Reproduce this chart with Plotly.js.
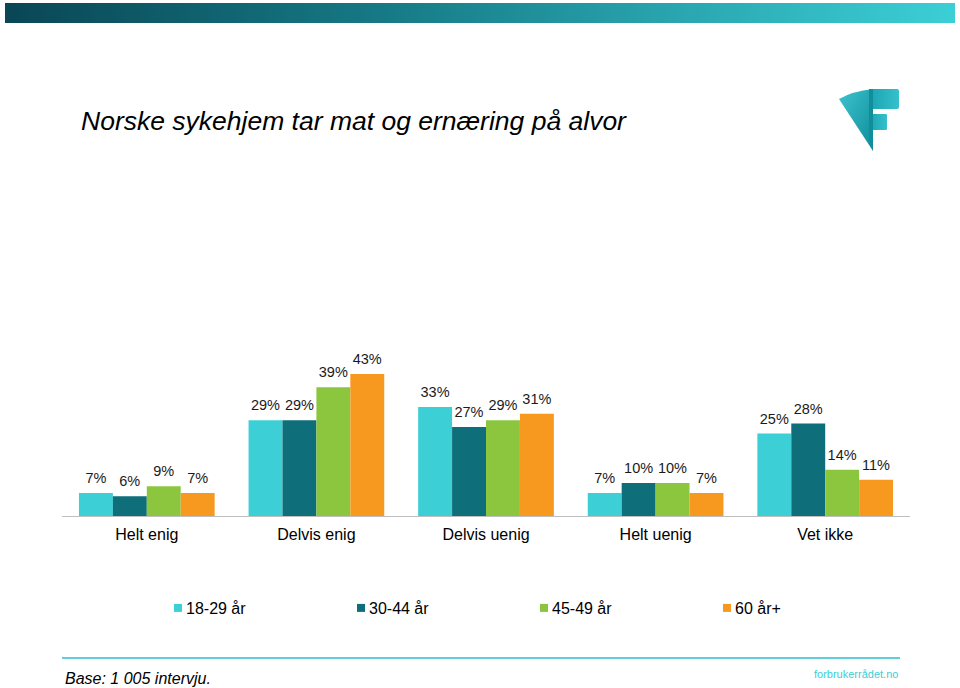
<!DOCTYPE html>
<html><head><meta charset="utf-8">
<script src="https://cdn.plot.ly/plotly-3.0.1.min.js"></script>
<style>html,body{margin:0;padding:0;background:#fff;}#chart{width:960px;height:688px;}</style>
</head><body><div id="chart"></div>
<script>
const categories = ["Helt enig", "Delvis enig", "Delvis uenig", "Helt uenig", "Vet ikke"];
const seriesNames = ["18-29 år", "30-44 år", "45-49 år", "60 år+"];
const age18_29 = [7, 29, 33, 7, 25];
const age30_44 = [6, 29, 27, 10, 28];
const age45_49 = [9, 39, 29, 10, 14];
const age60plus = [7, 43, 31, 7, 11];
const colors = ["#3ccfd6", "#0e6e7a", "#8cc63f", "#f7991e"];

const seriesValues = [age18_29, age30_44, age45_49, age60plus];
const traces = seriesValues.map((vals, i) => ({
  type: "bar", name: seriesNames[i], x: categories, y: vals,
  marker: {color: colors[i]},
  text: vals.map(v => v + "%"), textposition: "outside", cliponaxis: false,
  textfont: {family: "Liberation Sans, Arial, sans-serif", size: 14.5, color: "#1a1a1a"},
  hoverinfo: "skip"
}));

const bannerSvg = '<svg xmlns="http://www.w3.org/2000/svg" width="950" height="20"><defs><linearGradient id="g" x1="0" x2="1" y1="0" y2="0"><stop offset="0" stop-color="#0a4655"/><stop offset="0.4" stop-color="#167a86"/><stop offset="1" stop-color="#3ccfd6"/></linearGradient></defs><rect width="950" height="20" fill="url(#g)"/></svg>';
const logoSvg = '<svg xmlns="http://www.w3.org/2000/svg" width="62" height="62" viewBox="0 0 62 62"><defs><linearGradient id="a" x1="0" y1="0" x2="1" y2="1"><stop offset="0" stop-color="#3cc4cf"/><stop offset="1" stop-color="#0f8c9a"/></linearGradient><linearGradient id="b" x1="0" y1="0" x2="1" y2="0"><stop offset="0" stop-color="#1aa3b0"/><stop offset="1" stop-color="#36c0cc"/></linearGradient></defs><path d="M0,10 Q14,2 34,0 L34,62 Z" fill="url(#a)"/><rect x="30" y="0" width="30" height="20" rx="2" fill="url(#b)"/><rect x="30" y="25" width="18" height="16" rx="1" fill="url(#b)"/><path d="M30,0 L34,0 L34,62 L30,50 Z" fill="#0f8e9c"/></svg>';
function uri(s){ return "data:image/svg+xml;charset=utf-8," + encodeURIComponent(s); }

const pl = 62, pr = 50, pt = 340, pb = 172;
const pw = 960 - pl - pr, ph = 688 - pt - pb;
const px = x => (x - pl) / pw;
const py = y => (pt + ph - y) / ph;

const layout = {
  width: 960, height: 688,
  paper_bgcolor: "#ffffff", plot_bgcolor: "#ffffff",
  margin: {l: pl, r: pr, t: pt, b: pb},
  barmode: "group", bargap: 0.2, bargroupgap: 0,
  font: {family: "Liberation Sans, Arial, sans-serif", color: "#000"},
  xaxis: {
    showline: true, linecolor: "#bfbfbf", linewidth: 1, ticks: "",
    tickfont: {size: 16, color: "#000"}, ticklabelstandoff: 4,
    showgrid: false, zeroline: false, fixedrange: true
  },
  yaxis: {range: [0, ph / 3.3], visible: false, fixedrange: true},
  showlegend: true,
  legend: {
    orientation: "h", xref: "container", yref: "container",
    x: 146/960, y: 1 - 591/688, xanchor: "left", yanchor: "top",
    entrywidth: 138, entrywidthmode: "pixels", itemwidth: 30,
    font: {size: 16, color: "#000"}, traceorder: "normal"
  },
  annotations: [
    {text: "Norske sykehjem tar mat og ernæring på alvor", xref: "paper", yref: "paper",
     x: px(79), y: py(121), xanchor: "left", yanchor: "middle", showarrow: false,
     font: {size: 26.5, color: "#000", style: "italic"}},
    {text: "Base: 1 005 intervju.", xref: "paper", yref: "paper", x: px(63), y: py(678),
     xanchor: "left", yanchor: "middle", showarrow: false,
     font: {size: 16, color: "#000", style: "italic"}},
    {text: "forbrukerrådet.no", xref: "paper", yref: "paper", x: px(900), y: py(674),
     xanchor: "right", yanchor: "middle", showarrow: false,
     font: {size: 11, color: "#3ccfd6"}}
  ],
  shapes: [
    {type: "line", xref: "paper", yref: "paper", x0: px(62), x1: px(900), y0: py(658), y1: py(658),
     line: {color: "#5fd0d8", width: 2}}
  ],
  images: [
    {source: uri(bannerSvg), xref: "paper", yref: "paper", x: px(5), y: py(3), sizex: 950 / pw, sizey: 20 / ph,
     xanchor: "left", yanchor: "top", sizing: "stretch", layer: "below"},
    {source: uri(logoSvg), xref: "paper", yref: "paper", x: px(839), y: py(89), sizex: 62 / pw, sizey: 62 / ph,
     xanchor: "left", yanchor: "top", sizing: "stretch", layer: "above"}
  ],
  hovermode: false
};

Plotly.newPlot("chart", traces, layout, {displayModeBar: false, staticPlot: true}).then(gd => {
  // smaller legend squares placed right before the text, like the original
  gd.querySelectorAll(".legend .legendpoints path").forEach(p => {
    p.setAttribute("d", "M4,4H-4V-4H4Z");
    p.setAttribute("transform", "translate(32,0)");
  });
  // a little more room between bars and their value labels
  gd.querySelectorAll("text.bartext").forEach(t => {
    const tr = t.getAttribute("transform") || "";
    t.setAttribute("transform", "translate(0,-4) " + tr);
  });
});
</script></body></html>
